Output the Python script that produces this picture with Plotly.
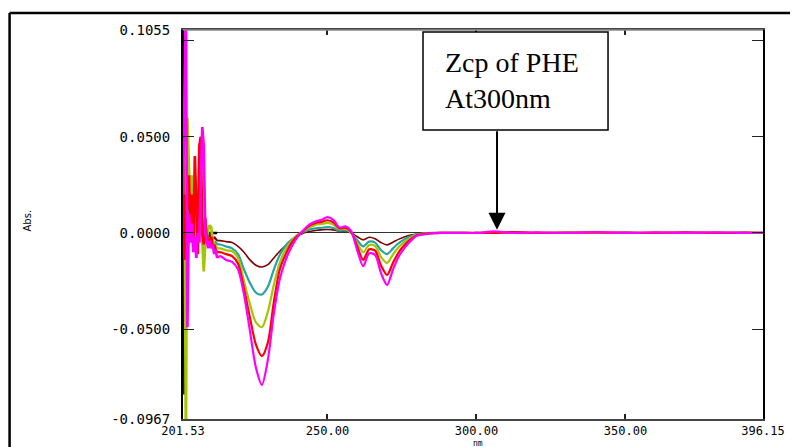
import plotly.graph_objects as go

# ---------------- data ----------------
wl_noise = [201.53, 202.0, 202.5, 203.0, 203.5, 204.0, 204.5, 205.0, 205.5, 206.0,
            206.5, 207.0, 207.5, 208.0, 208.5, 209.0, 209.5, 210.0, 210.5, 211.0,
            211.5, 212.0, 212.5, 213.0]

wl_main = [213, 214, 216, 218, 220, 222, 224, 226, 228, 230, 232, 234, 236, 238, 240,
           242, 244, 246, 248, 250, 252, 254, 256, 258, 260, 262, 264, 266, 268, 270,
           272, 274, 276, 278, 280, 282, 284, 286, 288, 290,
           296, 300, 306, 312, 320, 330, 340, 350, 360, 370, 380, 390, 396.15]

black_noise = [0.12, -0.084, 0.002, 0.0, 0.0, 0.0, 0.0, 0.0, 0.0, 0.0, 0.0, 0.0,
               0.0, 0.0, 0.0, 0.0, 0.0, 0.0, 0.0, 0.0, 0.0, 0.0, 0.0, 0.0]

brown_noise = [0.01, 0.03, 0.005, 0.025, 0.0, 0.02, -0.002, 0.015, 0.005, 0.012, 0.0, 0.004,
               -0.002, 0.002, -0.003, 0.001, -0.002, -0.003, 0.0, -0.002, -0.004, -0.002, -0.003, -0.004]
brown_main = [-0.004, -0.004, -0.0045, -0.005, -0.007, -0.010, -0.014, -0.0168, -0.0177, -0.0165,
              -0.013, -0.0095, -0.0065, -0.0035, -0.0015, 0.0, 0.0008, 0.0013, 0.0016, 0.0018,
              0.0016, 0.0008, 0.001, 0.0, -0.002, -0.0036, -0.0022, -0.003, -0.005, -0.0062,
              -0.0048, -0.0032, -0.002, -0.0011, -0.0005, -0.0002, -0.0001, 0.0, 0.0, 0.0,
              0.0, 0.0, 0.0002, 0.0006, 0.0, 0.0003, 0.0, 0.0003, 0.0, 0.0002, 0.0, 0.0003, 0.0]

teal_noise = [0.015, -0.005, 0.02, 0.005, 0.012, -0.003, 0.008, 0.0, 0.006, -0.004, 0.003, -0.002,
              0.002, -0.003, 0.0, -0.004, -0.002, -0.005, -0.003, -0.005, -0.004, -0.006, -0.005, -0.006]
teal_main = [-0.006, -0.006, -0.007, -0.008, -0.011, -0.019, -0.026, -0.031, -0.032, -0.028,
             -0.019, -0.0115, -0.0065, -0.0035, -0.001, 0.0006, 0.0018, 0.0024, 0.0027, 0.003,
             0.0026, 0.0012, 0.0014, 0.0001, -0.0038, -0.007, -0.0045, -0.005, -0.009, -0.011,
             -0.008, -0.0052, -0.0032, -0.0017, -0.0007, -0.0003, -0.0001, 0.0, 0.0, 0.0,
             0.0, 0.0, 0.0003, 0.0, 0.0, 0.0, 0.0002, 0.0, 0.0, 0.0, 0.0002, 0.0, 0.0]

yg_noise = [0.03, 0.04, -0.11, 0.06, 0.035, 0.015, 0.03, 0.005, 0.015, -0.002, 0.008, -0.005,
            0.003, -0.004, -0.02, -0.006, -0.003, 0.002, 0.004, 0.003, -0.004, -0.006, -0.007, -0.008]
yg_main = [-0.008, -0.008, -0.009, -0.0095, -0.013, -0.025, -0.037, -0.0465, -0.049, -0.041,
           -0.027, -0.0155, -0.0085, -0.004, -0.001, 0.001, 0.003, 0.0042, 0.0047, 0.0052,
           0.0044, 0.0019, 0.0022, 0.0003, -0.0055, -0.010, -0.0063, -0.0068, -0.0125, -0.0156,
           -0.0112, -0.0072, -0.0045, -0.0024, -0.0009, -0.0004, -0.0001, 0.0, 0.0, 0.0,
           0.0, 0.0, 0.0004, 0.0, 0.0, 0.0003, 0.0, 0.0, 0.0003, 0.0, 0.0, 0.0, 0.0]

red_noise = [0.035, -0.014, 0.02, 0.015, 0.03, 0.0, 0.02, -0.008, 0.04, 0.01, -0.011, 0.045,
             0.05, 0.0, -0.006, 0.008, -0.004, -0.003, -0.006, -0.002, -0.007, -0.006, -0.009, -0.010]
red_main = [-0.010, -0.010, -0.011, -0.012, -0.016, -0.029, -0.044, -0.058, -0.064, -0.057,
            -0.036, -0.019, -0.011, -0.005, -0.0015, 0.0012, 0.0038, 0.0052, 0.0058, 0.0066,
            0.0055, 0.0024, 0.0027, 0.0005, -0.007, -0.014, -0.0085, -0.0092, -0.017, -0.0218,
            -0.0155, -0.0098, -0.006, -0.0032, -0.0012, -0.0006, -0.0002, -0.0001, 0.0, 0.0,
            0.0, 0.0, 0.0, 0.0003, 0.0, 0.0, 0.0003, 0.0, 0.0, 0.0003, 0.0, 0.0, 0.0]

mag_noise = [0.02, 0.075, 0.12, -0.049, 0.01, -0.005, 0.005, -0.01, -0.002, -0.013, 0.0, -0.005,
             0.029, 0.055, 0.045, 0.0, -0.004, -0.008, -0.004, -0.008, -0.006, -0.011, -0.009, -0.013]
mag_main = [-0.013, -0.012, -0.014, -0.015, -0.019, -0.032, -0.051, -0.070, -0.079, -0.066,
            -0.042, -0.024, -0.014, -0.007, -0.002, 0.0015, 0.0045, 0.006, 0.0068, 0.0082,
            0.0068, 0.0028, 0.0034, 0.0008, -0.009, -0.0173, -0.0105, -0.0115, -0.021, -0.027,
            -0.019, -0.012, -0.0075, -0.004, -0.0015, -0.0008, -0.0003, -0.0001, 0.0, 0.0,
            0.0, 0.0, 0.0008, 0.0, 0.0003, 0.0, 0.0004, 0.0, 0.0003, 0.0, 0.0003, 0.0, 0.0]

x_tickvals = [201.53, 250.0, 300.0, 350.0, 396.15]
x_ticktext = ["201.53", "250.00", "300.00", "350.00", "396.15"]
y_tickvals = [0.1055, 0.1, 0.05, 0.0, -0.05, -0.0967]
y_ticktext = ["0.1055", "", "0.0500", "0.0000", "-0.0500", "-0.0967"]

# ---------------- figure ----------------
series = [
    ("brown", brown_noise, brown_main, "#800000", 1.6),
    ("teal", teal_noise, teal_main, "#2aa3a3", 2.2),
    ("yellowgreen", yg_noise, yg_main, "#a2c600", 2.2),
    ("red", red_noise, red_main, "#ff0000", 2.2),
    ("magenta", mag_noise, mag_main, "#ff00ff", 2.2),
]

fig = go.Figure()
fig.add_trace(go.Scatter(x=wl_noise, y=black_noise, mode="lines",
                         line=dict(color="#000000", width=2.5), showlegend=False, hoverinfo="skip"))
for name, noise, main, col, w in series:
    fig.add_trace(go.Scatter(x=wl_noise, y=noise, mode="lines", name=name,
                             line=dict(color=col, width=w + 0.5), showlegend=False))
    fig.add_trace(go.Scatter(x=wl_main, y=main, mode="lines", name=name,
                             line=dict(color=col, width=w, shape="spline", smoothing=0.8),
                             showlegend=False))

y_tick_font = dict(family="DejaVu Sans Mono", size=14, color="#000000")
x_tick_font = dict(family="DejaVu Sans Mono", size=12, color="#000000")

fig.update_layout(
    width=798, height=447,
    margin=dict(l=175, r=43, t=22, b=36),
    paper_bgcolor="white", plot_bgcolor="white",
    showlegend=False,
    xaxis=dict(range=[201.53, 396.15], tickvals=x_tickvals, ticktext=x_ticktext,
               ticks="inside", ticklen=5, tickwidth=2, tickcolor="#222",
               showline=True, linecolor="#444", linewidth=1.5, mirror="ticks",
               showgrid=False, zeroline=False, tickfont=x_tick_font, ticklabelstandoff=0),
    yaxis=dict(range=[-0.0967, 0.1055], tickvals=y_tickvals, ticktext=y_ticktext,
               ticks="inside", ticklen=11, tickwidth=1, tickcolor="#222",
               showline=True, linecolor="#000", linewidth=2, mirror="ticks",
               showgrid=False, zeroline=True, zerolinecolor="#333", zerolinewidth=1,
               tickfont=y_tick_font, ticklabelstandoff=8),
)

# outer frame (left + top edges)
fig.add_shape(type="line", xref="paper", yref="paper", x0=-0.2990, x1=-0.2990, y0=-0.2, y1=1.0437,
              line=dict(color="black", width=2.5))
fig.add_shape(type="line", xref="paper", yref="paper", x0=-0.2990, x1=1.2, y0=1.0437, y1=1.0437,
              line=dict(color="black", width=2.5))
# gray top edge of plot
fig.add_shape(type="line", xref="paper", yref="paper", x0=0, x1=1, y0=1, y1=1,
              line=dict(color="#888", width=1.5))

# annotation box
fig.add_shape(type="rect", xref="paper", yref="paper", x0=0.4138, x1=0.7328, y0=0.7429, y1=0.9949,
              line=dict(color="black", width=1.5), fillcolor="white")
fig.add_annotation(xref="paper", yref="paper", x=0.4483, y=0.869, xanchor="left", yanchor="middle",
                   text="Zcp of PHE<br>At300nm", showarrow=False, align="left",
                   font=dict(family="Liberation Serif", size=28, color="black"))
fig.add_annotation(x=306.9, y=0.0017, ax=0, ay=-100, text="", showarrow=True,
                   arrowhead=2, arrowsize=1.7, arrowwidth=2, arrowcolor="black", standoff=0)

# axis titles
fig.add_annotation(xref="paper", yref="paper", x=-0.281, y=0.509, text="Abs.", textangle=-90,
                   showarrow=False, font=dict(family="DejaVu Sans", size=10, color="black"))
fig.add_annotation(xref="paper", yref="paper", x=0.5086, y=-0.0488, yanchor="top", text="nm",
                   showarrow=False, borderpad=0, font=dict(family="DejaVu Sans Mono", size=8, color="black"))

fig.write_html("out.html")
